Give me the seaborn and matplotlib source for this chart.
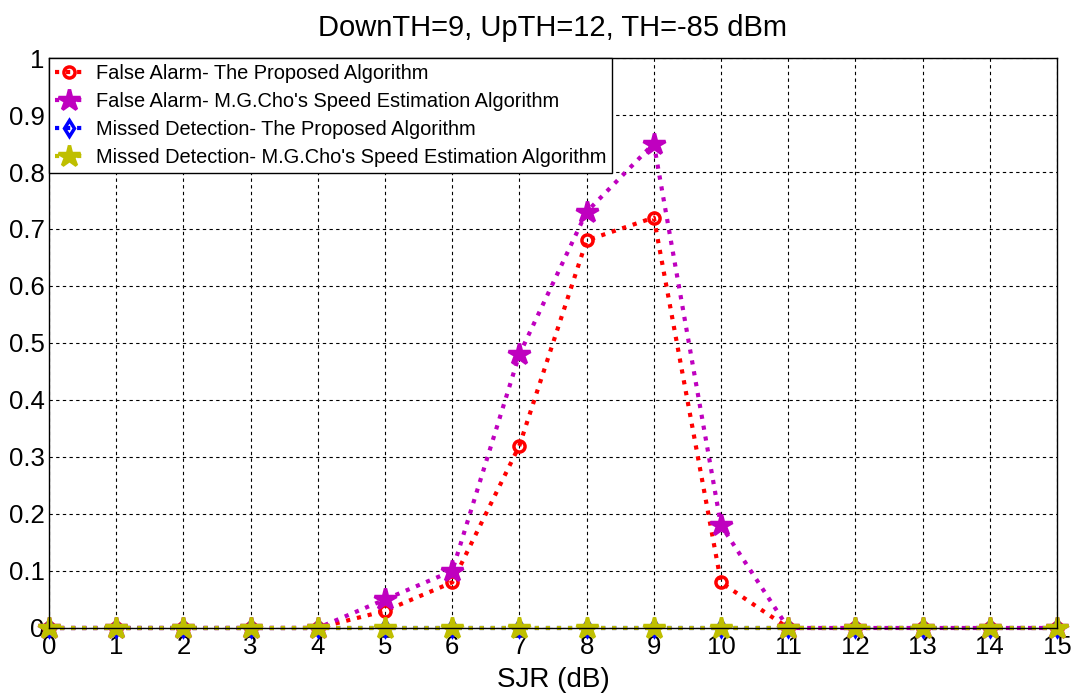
import matplotlib
matplotlib.use("Agg")
import matplotlib.pyplot as plt
import seaborn as sns
import numpy as np

sjr_db = list(range(16))
fa_proposed = [0, 0, 0, 0, 0, 0.03, 0.08, 0.32, 0.68, 0.72, 0.08, 0, 0, 0, 0, 0]
fa_cho = [0, 0, 0, 0, 0, 0.05, 0.10, 0.48, 0.73, 0.85, 0.18, 0, 0, 0, 0, 0]
md_proposed = [0] * 16
md_cho = [0] * 16

labels = [
    "False Alarm- The Proposed Algorithm",
    "False Alarm- M.G.Cho's Speed Estimation Algorithm",
    "Missed Detection- The Proposed Algorithm",
    "Missed Detection- M.G.Cho's Speed Estimation Algorithm",
]
y_tick_labels = ["0", "0.1", "0.2", "0.3", "0.4", "0.5", "0.6", "0.7", "0.8", "0.9", "1"]

sns.set_style("white")
plt.rcParams["font.family"] = ["Liberation Sans", "DejaVu Sans"]
plt.rcParams.update({
    "text.color": "black",
    "axes.labelcolor": "black",
    "xtick.color": "black",
    "ytick.color": "black",
})

fig = plt.figure(figsize=(10.72, 6.98), dpi=100)
ax = fig.add_axes([0.0457, 0.1003, 0.9403, 0.8166])

styles = [
    (fa_proposed, "#ff0000", "o", "none", 8),
    (fa_cho, "#bf00bf", "*", "#bf00bf", 16),
    (md_proposed, "#0000ff", "d", "none", 8),
    (md_cho, "#bfbf00", "*", "#bfbf00", 16),
]
for (vals, col, mk, mfc, ms), lab in zip(styles, labels):
    sns.lineplot(x=sjr_db, y=vals, ax=ax, color=col, linestyle=":", linewidth=3,
                 marker=mk, markersize=ms, markerfacecolor=mfc,
                 markeredgecolor=col, markeredgewidth=2.5, label=lab, clip_on=False)

ax.set_xlim(0, 15)
ax.set_ylim(0, 1)
ax.set_xticks(sjr_db)
ax.set_yticks(np.arange(0, 1.01, 0.1))
ax.set_yticklabels(y_tick_labels)
ax.tick_params(axis="both", direction="in", length=5, color="black",
               labelcolor="black", labelsize=18.5)
ax.tick_params(axis="x", pad=5)
ax.tick_params(axis="y", pad=3)
ax.grid(True, color="black", linestyle=(0, (3, 3)), linewidth=0.8)
for s in ax.spines.values():
    s.set_color("black")
    s.set_linewidth(1)

ax.set_xlabel("SJR (dB)", fontsize=20, labelpad=6, color="black")
ax.set_title("DownTH=9, UpTH=12, TH=-85 dBm", fontsize=21, pad=16, color="black")

leg = ax.legend(loc="upper left", bbox_to_anchor=(0.0, 1.0),
                prop={"size": 14.4}, frameon=True, fancybox=False,
                handlelength=1.4, borderaxespad=0.0, borderpad=0.3,
                labelspacing=0.45, handletextpad=0.65, labelcolor="black")
leg.get_frame().set_edgecolor("black")
leg.get_frame().set_linewidth(1)
leg.get_frame().set_alpha(1)

fig.savefig("out.png", dpi=100)
